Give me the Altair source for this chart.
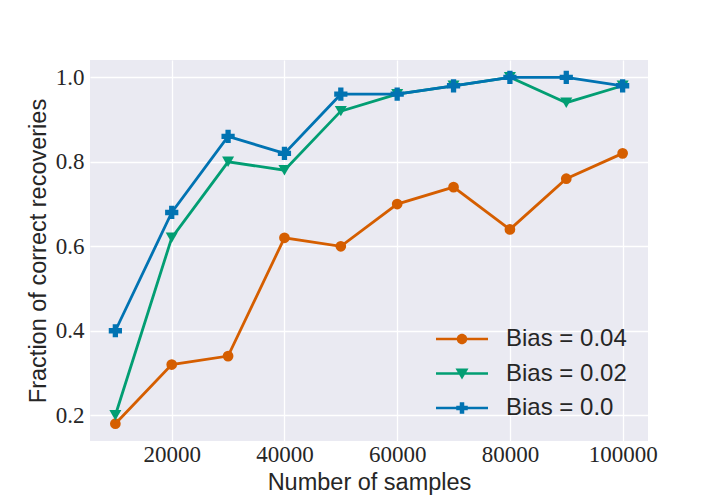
import altair as alt
import pandas as pd

samples = [10000, 20000, 30000, 40000, 50000, 60000, 70000, 80000, 90000, 100000]
bias_004 = [0.18, 0.32, 0.34, 0.62, 0.60, 0.70, 0.74, 0.64, 0.76, 0.82]
bias_002 = [0.20, 0.62, 0.80, 0.78, 0.92, 0.96, 0.98, 1.00, 0.94, 0.98]
bias_000 = [0.40, 0.68, 0.86, 0.82, 0.96, 0.96, 0.98, 1.00, 1.00, 0.98]
series_names = ["Bias = 0.04", "Bias = 0.02", "Bias = 0.0"]
series_colors = ["#d55e00", "#029e73", "#0173b2"]
x_ticks = [20000, 40000, 60000, 80000, 100000]
y_ticks = [0.2, 0.4, 0.6, 0.8, 1.0]

rows = []
for name, vals in zip(series_names, [bias_004, bias_002, bias_000]):
    for s, v in zip(samples, vals):
        rows.append({"samples": s, "frac": v, "series": name})
df = pd.DataFrame(rows)

marker_shapes = ["circle", "triangle-down", "cross"]
marker_sizes = [115, 175, 150]
# legend symbols: line + marker in one path (unit r = 5px with size 100)
line_part = "M-5.2,-0.26L5.2,-0.26L5.2,0.26L-5.2,0.26Z"
legend_shapes = [
    line_part + "M1.05,0A1.05,1.05 0 1,1 -1.05,0A1.05,1.05 0 1,1 1.05,0Z",
    line_part + "M-1.3,-1L1.3,-1L0,1.2Z",
    line_part + "M-1.15,-0.45L1.15,-0.45L1.15,0.45L-1.15,0.45Z"
    "M-0.45,-1.15L0.45,-1.15L0.45,1.15L-0.45,1.15Z",
]

xscale = alt.Scale(domain=[5500, 104500], nice=False, zero=False)
yscale = alt.Scale(domain=[0.139, 1.041], nice=False, zero=False)

label_font = "'Liberation Serif', 'Times New Roman', 'DejaVu Serif', serif"
title_font = "'Liberation Sans', Arial, sans-serif"
text_color = "#262626"

x_enc = alt.X(
    "samples:Q",
    scale=xscale,
    axis=alt.Axis(
        title="Number of samples",
        values=x_ticks,
        format="d",
        labelFont=label_font,
        labelFontSize=23,
        labelColor=text_color,
        labelPadding=2,
        titleFont=title_font,
        titleFontSize=23.5,
        titleFontWeight="normal",
        titleColor=text_color,
        titleBaseline="alphabetic",
        titleY=48,
        ticks=False,
        domain=False,
        grid=True,
        gridColor="white",
        gridWidth=1.3,
    ),
)
y_enc = alt.Y(
    "frac:Q",
    scale=yscale,
    axis=alt.Axis(
        title="Fraction of correct recoveries",
        values=y_ticks,
        format=".1f",
        labelFont=label_font,
        labelFontSize=23,
        labelColor=text_color,
        labelPadding=6,
        titleFont=title_font,
        titleFontSize=23.5,
        titleFontWeight="normal",
        titleColor=text_color,
        titleBaseline="alphabetic",
        titleX=-45,
        ticks=False,
        domain=False,
        grid=True,
        gridColor="white",
        gridWidth=1.3,
    ),
)

cscale = alt.Scale(domain=series_names, range=series_colors)
base = alt.Chart(df)

lines = base.mark_line(strokeWidth=2.8).encode(
    x=x_enc,
    y=y_enc,
    color=alt.Color("series:N", scale=cscale, legend=None),
    detail="series:N",
)

points = base.mark_point(filled=True, opacity=1).encode(
    x=x_enc,
    y=y_enc,
    color=alt.Color("series:N", scale=cscale, legend=None),
    shape=alt.Shape(
        "series:N",
        scale=alt.Scale(domain=series_names, range=marker_shapes),
        legend=None,
    ),
    size=alt.Size(
        "series:N",
        scale=alt.Scale(domain=series_names, range=marker_sizes),
        legend=None,
    ),
)

legend_opts = dict(
    title=None,
    orient="none",
    legendX=360,
    legendY=267,
    labelFont=title_font,
    labelFontSize=24,
    labelColor=text_color,
    labelOffset=32,
    symbolSize=100,
    symbolOpacity=1,
    symbolStrokeWidth=0,
    rowPadding=10.5,
    padding=0,
)

legend_layer = base.mark_point(filled=True, opacity=0, size=100).encode(
    x=x_enc,
    y=y_enc,
    color=alt.Color(
        "series:N",
        scale=alt.Scale(domain=series_names, range=series_colors),
        legend=alt.Legend(**legend_opts),
    ),
    shape=alt.Shape(
        "series:N",
        scale=alt.Scale(domain=series_names, range=legend_shapes),
        legend=alt.Legend(**legend_opts),
    ),
)

chart = (
    alt.layer(lines, points, legend_layer)
    .resolve_scale(shape="independent", color="independent", size="independent")
    .properties(
        width=558,
        height=381,
        autosize=alt.AutoSizeParams(type="none"),
        padding={"left": 82, "top": 52, "right": 64, "bottom": 55},
        background="white",
    )
    .configure_view(fill="#eaeaf2", stroke=None)
)

chart.save("out.html", embed_options={"renderer": "svg", "actions": False})
